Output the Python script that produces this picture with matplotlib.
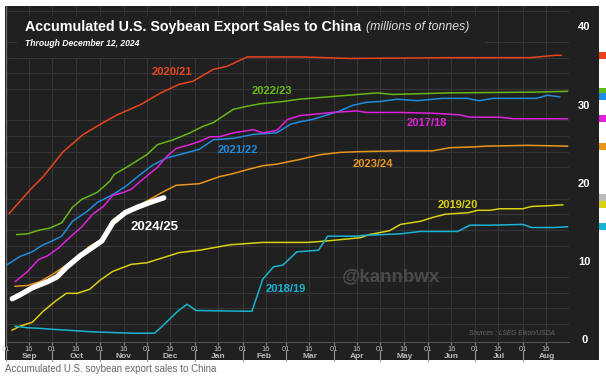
import matplotlib
matplotlib.use('Agg')
import matplotlib.pyplot as plt
from matplotlib.patches import Rectangle
from matplotlib.lines import Line2D
from matplotlib.transforms import blended_transform_factory

plt.rcParams['font.family'] = ['Liberation Sans', 'DejaVu Sans']

# x values are days since Sep 1 (start of the marketing year)
months = ['Sep', 'Oct', 'Nov', 'Dec', 'Jan', 'Feb', 'Mar', 'Apr', 'May', 'Jun', 'Jul', 'Aug']
month_len = [30, 31, 30, 31, 31, 28, 31, 30, 31, 30, 31, 31]

days_2020 = [2, 16, 24, 37, 50, 61, 72, 87, 100, 112, 121, 134, 143, 156, 190, 222, 287, 339, 355, 359]
sales_2020 = [16.1, 19.2, 20.8, 24.0, 26.2, 27.5, 28.7, 30.0, 31.5, 32.6, 33.0, 34.5, 34.9, 36.1,
              36.1, 35.9, 36.0, 36.0, 36.3, 36.3]

days_2022 = [7, 14, 22, 28, 36, 43, 49, 59, 67, 70, 78, 91, 98, 108, 119, 127, 134, 147, 156, 164,
             179, 190, 240, 250, 287, 341, 363]
sales_2022 = [13.4, 13.5, 14.0, 14.2, 14.9, 16.9, 17.9, 18.8, 20.2, 21.1, 22.0, 23.6, 24.9, 25.5,
              26.4, 27.2, 27.7, 29.4, 29.8, 30.1, 30.4, 30.7, 31.5, 31.3, 31.5, 31.6, 31.7]

days_2021 = [1, 9, 17, 23, 30, 36, 43, 52, 59, 69, 77, 87, 95, 104, 112, 125, 134, 147, 160, 175,
             184, 190, 198, 216, 224, 233, 242, 253, 266, 282, 298, 306, 315, 343, 350, 358]
sales_2021 = [9.6, 10.6, 11.2, 12.0, 12.6, 13.2, 15.1, 16.3, 17.5, 18.5, 19.5, 21.1, 22.3, 23.2,
              23.6, 24.3, 25.5, 25.7, 26.2, 26.4, 27.5, 27.8, 28.1, 29.2, 29.9, 30.3, 30.4, 30.7,
              30.5, 30.8, 30.8, 30.5, 30.8, 30.8, 31.2, 31.0]

days_2017 = [6, 14, 21, 27, 34, 41, 49, 56, 63, 69, 76, 81, 88, 98, 104, 110, 119, 125, 132, 138,
             147, 160, 166, 175, 182, 190, 211, 227, 233, 255, 276, 293, 300, 319, 328, 363]
sales_2017 = [7.4, 8.7, 10.2, 10.7, 11.7, 13.0, 14.4, 16.0, 17.0, 18.4, 18.8, 19.2, 20.4, 22.0,
              23.4, 24.4, 24.9, 25.3, 25.9, 25.9, 26.4, 26.8, 26.4, 26.7, 28.1, 28.6, 29.0, 29.2,
              29.0, 29.0, 28.9, 28.7, 28.4, 28.4, 28.2, 28.2]

days_2023 = [6, 14, 22, 30, 39, 48, 54, 62, 69, 76, 85, 93, 101, 110, 125, 138, 147, 156, 166, 175,
             190, 203, 216, 229, 255, 276, 287, 302, 311, 337, 363]
sales_2023 = [6.8, 6.9, 7.4, 8.3, 9.5, 10.9, 11.9, 12.8, 15.3, 16.2, 17.0, 17.9, 18.8, 19.7, 19.9,
              20.8, 21.2, 21.7, 22.2, 22.4, 23.0, 23.6, 23.9, 24.0, 24.1, 24.1, 24.5, 24.6, 24.7,
              24.8, 24.7]

days_2024 = [4, 9, 17, 27, 33, 39, 48, 54, 62, 69, 77, 85, 93, 102]
sales_2024 = [5.2, 5.7, 6.6, 7.4, 8.0, 9.2, 10.7, 11.5, 12.6, 14.9, 16.2, 16.9, 17.5, 18.1]

days_2019 = [4, 9, 17, 24, 32, 39, 46, 54, 61, 69, 81, 91, 104, 112, 125, 145, 166, 195, 208, 229,
             235, 248, 255, 268, 276, 284, 299, 305, 313, 319, 334, 340, 352, 360]
sales_2019 = [1.2, 1.7, 2.2, 3.6, 4.9, 5.9, 5.9, 6.4, 7.6, 8.7, 9.6, 9.8, 10.6, 11.1, 11.4, 12.1,
              12.4, 12.4, 12.6, 13.0, 13.4, 13.9, 14.7, 15.1, 15.6, 16.0, 16.2, 16.5, 16.5, 16.7,
              16.7, 17.0, 17.1, 17.2]

days_2018 = [6, 14, 24, 30, 39, 54, 67, 82, 96, 100, 111, 117, 123, 159, 166, 173, 179, 188, 202,
             208, 227, 231, 255, 268, 292, 300, 313, 334, 340, 354, 363]
sales_2018 = [1.7, 1.5, 1.4, 1.3, 1.2, 1.0, 0.9, 0.8, 0.8, 1.5, 3.6, 4.5, 3.7, 3.6, 7.7, 9.3, 9.5,
              11.2, 11.4, 13.2, 13.2, 13.3, 13.5, 13.8, 13.8, 14.6, 14.6, 14.7, 14.3, 14.3, 14.4]

y_ticks = [0, 10, 20, 30, 40]

bg = '#202020'
series = [
    ('2020/21', days_2020, sales_2020, '#e8441c', (107, 34.2)),
    ('2022/23', days_2022, sales_2022, '#66b814', (172, 31.7)),
    ('2021/22', days_2021, sales_2021, '#1e8ce0', (150, 24.2)),
    ('2017/18', days_2017, sales_2017, '#e020dc', (272, 27.6)),
    ('2023/24', days_2023, sales_2023, '#e8961c', (237, 22.4)),
    ('2019/20', days_2019, sales_2019, '#d8d010', (292, 17.2)),
    ('2018/19', days_2018, sales_2018, '#18b4d4', (181, 6.4)),
]

W, H = 606, 380
fig = plt.figure(figsize=(W / 100, H / 100), dpi=100, facecolor='white')
fig.patches.append(Rectangle((5 / W, 20 / H), 594 / W, 354 / H, transform=fig.transFigure,
                             facecolor=bg, edgecolor='none', zorder=-5))
ax = fig.add_axes([6 / W, 38 / H, 563 / W, 336 / H])
ax.set_facecolor(bg)
ax.set_xlim(0, 364)
ax.set_ylim(-0.32, 42.6)

# grid
ax.set_yticks(range(0, 43, 2), minor=True)
starts = [sum(month_len[:i]) for i in range(12)]
xt = []
for s in starts:
    xt += [s, s + 15]
ax.set_xticks(xt)
ax.set_xticklabels(['01', '16'] * 12)
ax.grid(which='minor', axis='y', color='#353535', lw=0.8)
ax.grid(which='major', axis='x', color='#353535', lw=0.8)
ax.tick_params(axis='x', colors='#888888', labelcolor='#bbbbbb', labelsize=5.5, length=2, pad=1.2)
ax.tick_params(axis='y', which='minor', length=0)
ax.set_axisbelow(True)

ax.yaxis.tick_right()
ax.set_yticks(y_ticks)
ax.set_yticklabels([str(v) for v in y_ticks], fontweight='bold')
ax.tick_params(axis='y', which='major', length=0, labelcolor='white', labelsize=8, pad=11)
for t in ax.yaxis.get_major_ticks():
    t.label2.set_horizontalalignment('center')

for s in ['top', 'right']:
    ax.spines[s].set_visible(False)
ax.spines['left'].set_color('#777777')
ax.spines['bottom'].set_color('#555555')

# month labels and separators
bt = blended_transform_factory(ax.transData, ax.transAxes)
for m, s, n in zip(months, starts, month_len):
    ax.text(s + n / 2, -0.044, m, transform=bt, ha='center', va='center', fontsize=6,
            fontweight='bold', color='#bbbbbb')
    ax.add_line(Line2D([s, s], [-0.027, -0.056], transform=bt, color='#999999', lw=0.8,
                       clip_on=False))

# title box
ax.add_patch(Rectangle((0.02, 0.845), 0.83, 0.125, transform=ax.transAxes, facecolor=bg,
                       edgecolor='none', zorder=1))

for label, d, v, c, pos in series:
    ax.plot(d, v, color=c, lw=1.1, zorder=3)
    ax.text(pos[0], pos[1], label, color=c, fontsize=8, fontweight='bold', ha='center',
            va='center', zorder=4)

ax.plot(days_2024, sales_2024, color='white', lw=3.8, solid_capstyle='round', zorder=5)
ax.text(96, 14.4, '2024/25', color='white', fontsize=9.5, fontweight='bold', ha='center',
        va='center', zorder=5)

ax.text(249, 8.0, '@kannbwx', color='#4a4a4a', fontsize=13.5, fontweight='bold', ha='center',
        va='center', zorder=2)
ax.text(0.975, 0.025, 'Sources : LSEG Eikon/USDA', transform=ax.transAxes, color='#666666',
        fontsize=4.8, style='italic', ha='right', va='center', zorder=2)

title = ax.text(0.033, 0.938, 'Accumulated U.S. Soybean Export Sales to China', transform=ax.transAxes,
                color='white', fontsize=10.3, fontweight='bold', ha='left', va='center', zorder=2)
ax.annotate('(millions of tonnes)', xy=(1, 0.5), xycoords=title, xytext=(3.5, 0),
            textcoords='offset points', color='#dddddd', fontsize=8.8, style='italic',
            ha='left', va='center', zorder=2)
ax.text(0.033, 0.887, 'Through December 12, 2024', transform=ax.transAxes, color='white',
        fontsize=6.2, fontweight='bold', style='italic', ha='left', va='center', zorder=2)

# cut-off end-value tags at the right edge
ft = blended_transform_factory(fig.transFigure, ax.transData)
for label, d, v, c, pos in series + [('2024/25', days_2024, sales_2024, '#bbbbbb', None)]:
    fig.patches.append(Rectangle((599 / W, v[-1] - 0.45), 7 / W, 0.9, transform=ft, facecolor=c,
                                 edgecolor='none'))

fig.text(5 / W, 11 / H, 'Accumulated U.S. soybean export sales to China', color='#666666',
         fontsize=7, ha='left', va='center')

fig.savefig('out.png', dpi=100, facecolor='white')
